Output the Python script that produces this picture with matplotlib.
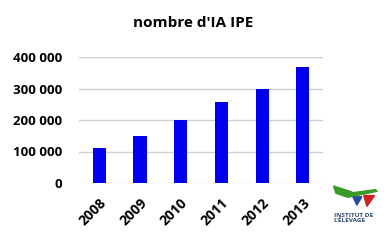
import matplotlib
matplotlib.use("Agg")
import matplotlib.pyplot as plt
from matplotlib.patches import Polygon

years = ["2008", "2009", "2010", "2011", "2012", "2013"]
ia_ipe = [111000, 150000, 200000, 257000, 300000, 368000]
yticks = [0, 100000, 200000, 300000, 400000]
ytick_labels = ["0", "100 000", "200 000", "300 000", "400 000"]

plt.rcParams['font.family'] = ['Open Sans', 'DejaVu Sans']

fig = plt.figure(figsize=(3.87, 2.40), dpi=100)
ax = fig.add_axes([0.204, 0.2375, 0.631, 0.525])

x = range(len(years))
ax.bar(x, ia_ipe, width=0.32, color="#0000ee", zorder=3)
ax.set_xlim(-0.5, len(years) - 0.5)
ax.set_ylim(0, 400000)
ax.set_yticks(yticks)
ax.set_yticklabels(ytick_labels, fontsize=9.5, fontweight="bold")
ax.set_xticks(list(x))
ax.set_xticklabels(years, fontsize=10, fontweight="bold", rotation=45,
                   ha="right", va="top", rotation_mode="anchor")
ax.tick_params(axis="y", length=0, pad=12)
ax.tick_params(axis="x", length=0, pad=9)
for s in ax.spines.values():
    s.set_visible(False)
ax.grid(axis="y", color="#d0d0d0", linewidth=1, zorder=0)
ax.set_axisbelow(True)

fig.text(0.5, 0.905, "nombre d'IA IPE", ha="center", va="center",
         fontsize=11, fontweight="bold")

# logo (rough sketch)
fig.patches.append(Polygon([[0.862, 0.225], [0.91, 0.2], [0.895, 0.18], [0.868, 0.195]],
                           closed=True, transform=fig.transFigure, color="#3a9a2a"))
fig.patches.append(Polygon([[0.88, 0.19], [0.97, 0.21], [0.975, 0.203], [0.9, 0.178]],
                           closed=True, transform=fig.transFigure, color="#3a9a2a"))
fig.patches.append(Polygon([[0.912, 0.18], [0.935, 0.18], [0.922, 0.145]],
                           closed=True, transform=fig.transFigure, color="#2a4aa0"))
fig.patches.append(Polygon([[0.94, 0.185], [0.968, 0.185], [0.948, 0.14]],
                           closed=True, transform=fig.transFigure, color="#d02020"))
fig.text(0.862, 0.09, "INSTITUT DE\nL'ÉLEVAGE", fontsize=4.6, fontweight="bold",
         color="#2a4a70", va="center", ha="left", linespacing=1.0)

fig.savefig("out.png", dpi=100)
